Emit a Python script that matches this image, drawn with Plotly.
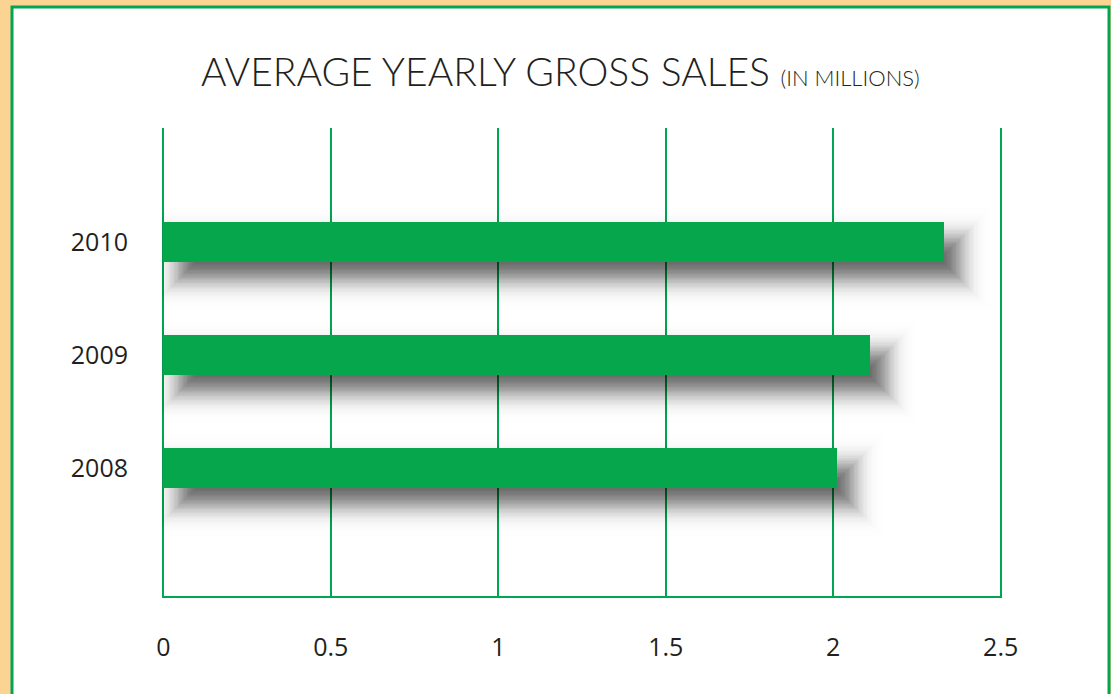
import math
import plotly.graph_objects as go

years = ["2008", "2009", "2010"]
sales = [2.01, 2.11, 2.33]
x_ticks = [0, 0.5, 1, 1.5, 2, 2.5]
x_tick_labels = ["0", "0.5", "1", "1.5", "2", "2.5"]

GREEN = "#05A64C"
LINE_GREEN = "#00A651"
ORANGE = "#FBD393"
TEXT = "#231F20"

W, H = 1111, 694
L, R, T, B = 162, 109, 128, 98
pw, ph = W - L - R, H - T - B

X_MIN, X_MAX = -0.004, 2.504
Y_MIN, Y_MAX = -1.13, 3.01
px_x = (X_MAX - X_MIN) / pw   # x units per pixel
px_y = (Y_MAX - Y_MIN) / ph   # category units per pixel

pos = list(range(len(years)))
bar_w = 0.35

fig = go.Figure()

# soft (gaussian-like) drop shadow from layered translucent bars
core = 0.60
sig_px = 12.0
off_x_px, off_y_px = 16.0, 17.0
n_layers = 40
zs = [2.6 - 4.2 * i / (n_layers - 1) for i in range(n_layers)]  # outer -> inner


def target(z):
    return core * (1 - 0.5 * (1 + math.erf(z / math.sqrt(2))))


prev = 0.0
for z in zs:
    d = target(z)
    a = 1 - (1 - d) / (1 - prev)
    prev = d
    s_px = z * sig_px
    sx = s_px * px_x
    sy = s_px * px_y
    w = bar_w + 2 * sy
    if w <= 0:
        continue
    fig.add_trace(go.Bar(
        y=pos, x=[v + 2 * sx for v in sales],
        base=[off_x_px * px_x - sx] * len(sales),
        orientation="h", width=w, offset=-w / 2 - off_y_px * px_y,
        marker=dict(color=f"rgba(0,0,0,{a:.4f})", line=dict(width=0)),
        hoverinfo="skip", showlegend=False,
    ))

fig.add_trace(go.Bar(
    y=pos, x=sales, orientation="h", width=bar_w,
    marker=dict(color=GREEN, line=dict(width=0)),
    showlegend=False, name="Sales",
))

# white panel with green border
fig.add_shape(type="rect", xref="paper", yref="paper",
              x0=(12 - L) / pw, x1=(1109 - L) / pw,
              y0=-0.5, y1=(H - B - 7) / ph,
              fillcolor="white", line=dict(color=LINE_GREEN, width=3),
              layer="below")

fig.add_annotation(
    xref="paper", yref="paper", x=(560 - L) / pw, y=(H - B - 71) / ph,
    text="AVERAGE YEARLY GROSS SALES <span style='font-size:22px'>(IN MILLIONS)</span>",
    showarrow=False, font=dict(family="Lato", size=39, color=TEXT, weight=300),
    xanchor="center", yanchor="middle",
)

fig.update_layout(
    width=W, height=H,
    margin=dict(l=L, r=R, t=T, b=B, pad=0),
    paper_bgcolor=ORANGE, plot_bgcolor="rgba(0,0,0,0)",
    barmode="overlay", bargap=0,
    font=dict(family="Open Sans", color=TEXT, size=25),
)
fig.update_xaxes(
    range=[X_MIN, X_MAX], tickvals=x_ticks, ticktext=x_tick_labels,
    showgrid=True, gridcolor=LINE_GREEN, gridwidth=2,
    zeroline=True, zerolinecolor=LINE_GREEN, zerolinewidth=2,
    showline=True, linecolor=LINE_GREEN, linewidth=2,
    ticks="", ticklabelstandoff=28, tickfont=dict(size=25, color=TEXT),
    fixedrange=True,
)
fig.update_yaxes(
    range=[Y_MIN, Y_MAX], tickvals=pos, ticktext=years,
    showgrid=False, zeroline=False, showline=False,
    ticks="", ticklabelstandoff=33, tickfont=dict(size=25, color=TEXT),
    fixedrange=True,
)

fig.write_html("out.html")
